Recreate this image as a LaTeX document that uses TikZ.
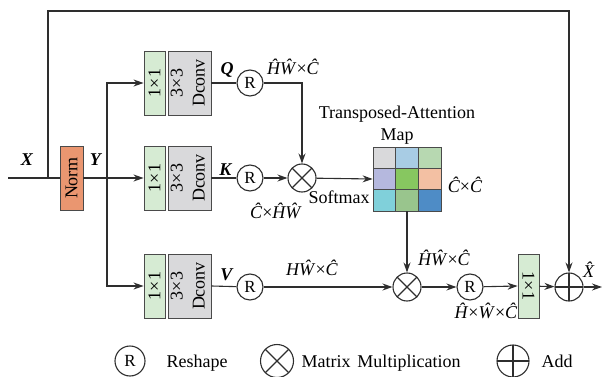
\documentclass[tikz,border=0pt]{standalone}
\usepackage{fontspec}
\setmainfont{Liberation Serif}
\usepackage{graphicx}
\usetikzlibrary{arrows.meta}

\definecolor{linec}{HTML}{2E2E2E}
\definecolor{boxline}{HTML}{4A4A4A}
\definecolor{normc}{HTML}{EA9670}
\definecolor{onec}{HTML}{D6EBD3}
\definecolor{dconvc}{HTML}{D9D9DB}
\definecolor{ca}{HTML}{D9D9DB}
\definecolor{cb}{HTML}{A8CCE4}
\definecolor{cc}{HTML}{B7D8B1}
\definecolor{cd}{HTML}{B5B8DE}
\definecolor{ce}{HTML}{87C760}
\definecolor{cf}{HTML}{F3C0A3}
\definecolor{cg}{HTML}{80D0DA}
\definecolor{ch}{HTML}{99C58D}
\definecolor{ci}{HTML}{4E8CC6}

\newcommand{\lbl}[1]{\textit{#1}}
\newcommand{\bvar}[1]{\textbf{\textit{#1}}}

\begin{document}
\begin{tikzpicture}[x=1pt,y=-1pt,
  line width=1.1pt, draw=linec,
  font=\fontsize{18}{21}\selectfont,
  >={Stealth[length=10pt,width=7pt]},
  normbox/.style={draw=boxline,fill=normc,line width=0.9pt,minimum width=23pt,minimum height=64pt,inner sep=0pt},
  onebox/.style={draw=boxline,fill=onec,line width=0.9pt,minimum width=21pt,minimum height=64pt,inner sep=0pt},
  dcbox/.style={draw=boxline,fill=dconvc,line width=0.9pt,minimum width=43pt,minimum height=64pt,inner sep=0pt},
  rsh/.style={circle,draw=linec,minimum size=26pt,inner sep=0pt,font=\fontsize{17}{20}\selectfont},
  xmul/.style={circle,draw=linec,minimum size=#1,inner sep=0pt,
    path picture={\draw[linec] (path picture bounding box.north west) -- (path picture bounding box.south east)
                   (path picture bounding box.north east) -- (path picture bounding box.south west);}},
  xmul/.default=28pt,
  xadd/.style={circle,draw=linec,minimum size=#1,inner sep=0pt,
    path picture={\draw[linec] (path picture bounding box.north) -- (path picture bounding box.south)
                   (path picture bounding box.east) -- (path picture bounding box.west);}},
  xadd/.default=28pt,
  txt/.style={anchor=base,inner sep=0pt}
]
\useasboundingbox (0,0) rectangle (602,377);

% norm block and the three conv branches
\node[normbox] (norm) at (71.5,178) {\rotatebox{90}{Norm}};

\node[onebox] (q1) at (154.5,83) {\rotatebox{90}{1×1}};
\node[dcbox]  (qd) at (189.5,83) {\rotatebox{90}{\begin{tabular}{@{}c@{}}3×3\\[1pt]Dconv\end{tabular}}};
\node[onebox] (k1) at (154.5,178) {\rotatebox{90}{1×1}};
\node[dcbox]  (kd) at (189.5,178) {\rotatebox{90}{\begin{tabular}{@{}c@{}}3×3\\[1pt]Dconv\end{tabular}}};
\node[onebox] (v1) at (154.5,286) {\rotatebox{90}{1×1}};
\node[dcbox]  (vd) at (189.5,286) {\rotatebox{90}{\begin{tabular}{@{}c@{}}3×3\\[1pt]Dconv\end{tabular}}};

% reshape and product operators
\node[rsh] (rq) at (250,83) {R};
\node[rsh] (rk) at (250,178) {R};
\node[rsh] (rv) at (250,287) {R};
\node[xmul] (mk) at (302,178) {};
\node[xmul] (mv) at (407,287) {};
\node[rsh] (r2) at (470,287) {R};
\node[onebox] (o1) at (528.5,286) {\rotatebox{-90}{1×1}};
\node[xadd] (plus) at (569,287) {};

% attention map cells
\begin{scope}[draw=boxline,line width=0.9pt]
\filldraw[fill=ca] (373,147) rectangle (395.67,168.33);
\filldraw[fill=cb] (395.67,147) rectangle (418.33,168.33);
\filldraw[fill=cc] (418.33,147) rectangle (441,168.33);
\filldraw[fill=cd] (373,168.33) rectangle (395.67,189.67);
\filldraw[fill=ce] (395.67,168.33) rectangle (418.33,189.67);
\filldraw[fill=cf] (418.33,168.33) rectangle (441,189.67);
\filldraw[fill=cg] (373,189.67) rectangle (395.67,211);
\filldraw[fill=ch] (395.67,189.67) rectangle (418.33,211);
\filldraw[fill=ci] (418.33,189.67) rectangle (441,211);
\end{scope}
\node[draw=boxline,line width=0.9pt,minimum width=68pt,minimum height=64pt,inner sep=0pt] (attn) at (407,179) {};

% connectors
\coordinate (in) at (8,178);
\coordinate (sk) at (48,178);
\coordinate (top) at (48,11);
\coordinate (br) at (107,178);
\coordinate (out) at (602,287);

\draw (in) -- (norm.west);
\draw[->] (norm.east) -- (k1.west);
\draw[->] (br) |- (q1.west);
\draw[->] (br) |- (v1.west);
\draw[->] (sk) -- (top) -| (plus.north);

\draw (qd.east) -- (rq);
\draw[->] (rq) -| (mk.north);
\draw (kd.east) -- (rk);
\draw[->] (rk) -- (mk);
\draw[->] (mk) -- (attn.west);
\draw (vd.east) -- (rv);
\draw[->] (rv) -- (mv);
\draw[->] (attn.south) -- (mv.north);
\draw[->] (mv) -- (r2);
\draw[->] (r2) -- (o1.west);
\draw[->] (o1) -- (plus);
\draw[->] (plus) -- (out);

% labels
\node[txt] (lx) at (27,165) {\bvar{X}};
\node[txt] (ly) at (96,165) {\bvar{Y}};
\node[txt] (lq) at (227,75) {\bvar{Q}};
\node[txt] (lk) at (226,175) {\bvar{K}};
\node[txt] (lv) at (227,280) {\bvar{V}};
\node[txt] (lqs) at (293,75) {\lbl{\^H\^W}×\lbl{\^C}};
\node[txt] (lks) at (276,218) {\lbl{\^C}×\lbl{\^H\^W}};
\node[txt] (lsm) at (339,203) {Softmax};
\node[txt] (lt1) at (397,118) {Transposed-Attention};
\node[txt] (lt2) at (397,140) {Map};
\node[txt] (lcc) at (465,192) {\lbl{\^C}×\lbl{\^C}};
\node[txt] (lvs) at (312,275) {\lbl{H\^W}×\lbl{\^C}};
\node[txt] (lms) at (444,265) {\lbl{\^H\^W}×\lbl{\^C}};
\node[txt] (lrs) at (486,318) {\lbl{\^H}×\lbl{\^W}×\lbl{\^C}};
\node[txt] (lxh) at (592,277) {\lbl{\^X}};

% legend
\node[rsh,minimum size=30pt] (gr) at (130,361) {R};
\node[txt] (grt) at (197,367) {Reshape};
\node[xmul=33pt] (gm) at (277,361) {};
\node[txt] (gmt) at (381,367) {Matrix\hspace{7pt}Multiplication};
\node[xadd=32pt] (ga) at (513,361) {};
\node[txt] (gat) at (557,367) {Add};
\end{tikzpicture}
\end{document}
